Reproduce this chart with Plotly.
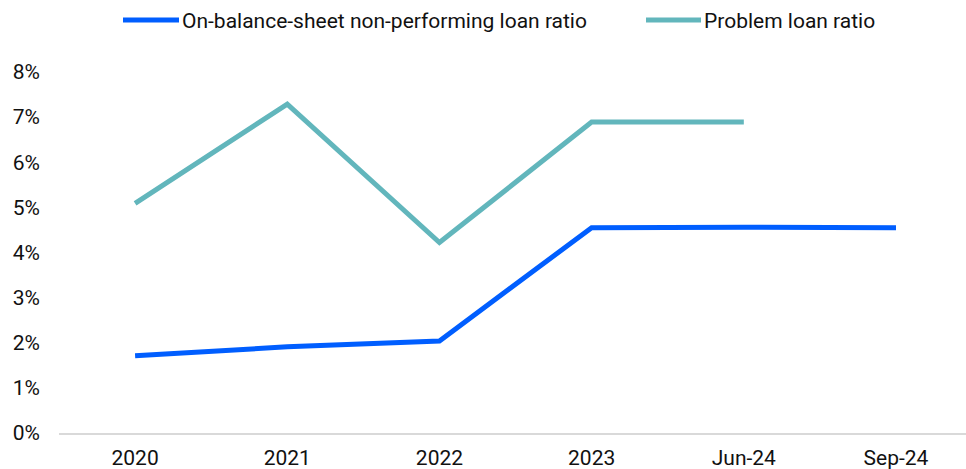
import plotly.graph_objects as go

# Periods on the category axis
periods = ["2020", "2021", "2022", "2023", "Jun-24", "Sep-24"]

# Ratios in percent
npl_ratio = [1.71, 1.91, 2.04, 4.55, 4.56, 4.55]
problem_loan_ratio = [5.09, 7.29, 4.22, 6.89, 6.89, None]

y_ticks = [0, 1, 2, 3, 4, 5, 6, 7, 8]
y_tick_text = [f"{v}%" for v in y_ticks]

series = [
    ("On-balance-sheet non-performing loan ratio", npl_ratio, "#005EFF"),
    ("Problem loan ratio", problem_loan_ratio, "#62B6BC"),
]

fig = go.Figure()
for name, values, color in series:
    fig.add_trace(go.Scatter(
        x=periods, y=values, name=name, mode="lines",
        line=dict(color=color, width=5),
        connectgaps=False, showlegend=False,
    ))

# Legend drawn as line samples with labels along the top
legend_items = [
    (123, 179, "On-balance-sheet non-performing loan ratio", "#005EFF"),
    (646, 701, "Problem loan ratio", "#62B6BC"),
]
W, H = 966, 469
for x0, x1, label, color in legend_items:
    fig.add_shape(type="line", xref="paper", yref="paper",
                  x0=(x0 - 59) / (W - 59), x1=(x1 - 59) / (W - 59),
                  y0=1 + (72 - 20) / (433 - 72), y1=1 + (72 - 20) / (433 - 72),
                  line=dict(color=color, width=5))
    fig.add_annotation(xref="paper", yref="paper",
                       x=(x1 + 1 - 59) / (W - 59), y=1 + (72 - 21) / (433 - 72),
                       text=label, showarrow=False, xanchor="left", yanchor="middle",
                       font=dict(size=21, color="#111111", family="Roboto"))

fig.update_layout(
    width=W, height=H,
    margin=dict(l=59, r=0, t=72, b=36),
    paper_bgcolor="white", plot_bgcolor="white",
    font=dict(family="Roboto", size=21, color="#111111"),
    showlegend=False,
)
fig.update_xaxes(
    type="category", range=[-0.5, 5.46],
    showgrid=False, zeroline=False, automargin=False,
    showline=True, linecolor="#D9D9D9", linewidth=2,
    ticks="", ticklabelstandoff=5,
)
fig.update_yaxes(
    range=[0, 8], tickvals=y_ticks, ticktext=y_tick_text,
    showgrid=False, zeroline=False, showline=False, automargin=False,
    ticks="", ticklabelstandoff=18,
)

fig.write_html("out.html")
